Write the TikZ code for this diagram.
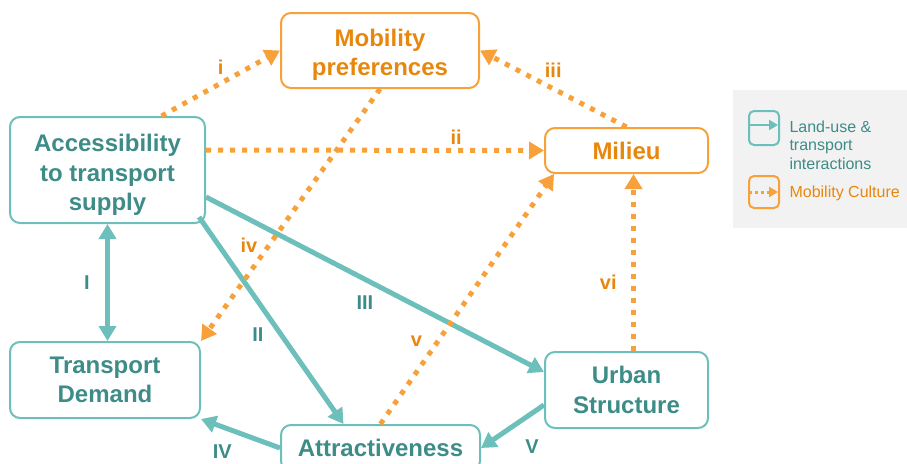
\documentclass[tikz,border=0pt]{standalone}
\usepackage{fontspec}
\setmainfont{Liberation Sans}
\usetikzlibrary{arrows.meta}

\definecolor{tealline}{HTML}{6CBFBB}
\definecolor{tealtext}{HTML}{3D8C88}
\definecolor{orangeline}{HTML}{F8A13A}
\definecolor{orangetext}{HTML}{E8870E}
\definecolor{legendbg}{HTML}{F2F2F2}

\begin{document}
\begin{tikzpicture}[x=1pt,y=-1pt,
    box/.style={draw,line width=2pt,rounded corners=10pt,align=center,
      font=\fontsize{24}{29.5}\selectfont\bfseries,inner sep=0pt},
    luboxA/.style={box,draw=tealline,text=tealtext},
    mcbox/.style={box,draw=orangeline,text=orangetext},
    lu/.style={line width=5pt,tealline,-{Triangle[length=15pt,width=17pt]}},
    mc/.style={line width=5pt,orangeline,dash pattern=on 5pt off 7pt,
      -{Triangle[length=15pt,width=17pt]}},
    lulbl/.style={text=tealtext,font=\fontsize{20}{24}\selectfont\bfseries},
    mclbl/.style={text=orangetext,font=\fontsize{20}{24}\selectfont\bfseries}]
  \useasboundingbox (0,0) rectangle (907,463);

  % boxes (the rule pushes the first line a bit lower)
  \node[luboxA,minimum width=195pt,minimum height=106pt] (acc) at (107.5,170) {\rule{0pt}{27.5pt}Accessibility\\to transport\\supply};
  \node[mcbox,minimum width=198pt,minimum height=75pt] (pref) at (380,50.5) {\rule{0pt}{25.5pt}Mobility\\preferences};
  \node[mcbox,minimum width=163pt,minimum height=45pt] (milieu) at (626.5,150.5) {Milieu};
  \node[luboxA,minimum width=190pt,minimum height=76pt] (demand) at (105,380) {Transport\\Demand};
  \node[luboxA,minimum width=163pt,minimum height=76pt] (urban) at (626.5,390) {Urban\\Structure};
  \node[luboxA,minimum width=199pt,minimum height=46pt] (attr) at (380.5,448) {Attractiveness};

  % land-use & transport interactions
  \draw[lu,{Triangle[length=15pt,width=17pt]}-{Triangle[length=15pt,width=17pt]}] (acc.south) -- node[lulbl,left=12pt] (lI) {I} (acc.south |- demand.north);
  \draw[lu] ([xshift=-7pt,yshift=7pt]acc.south east) -- node[lulbl,pos=.57,left=12pt] (lII) {II} ([xshift=-37pt]attr.north);
  \draw[lu] ([yshift=-27pt]acc.east) -- node[lulbl,pos=.47,below=11pt] (lIII) {III} ([yshift=18pt]urban.west);
  \draw[lu] (attr.west) -- node[lulbl,pos=.73,below=12pt] (lIV) {IV} (demand.south east);
  \draw[lu] ([yshift=-15pt]urban.west) -- node[lulbl,pos=.3,below=16pt,xshift=7pt] (lV) {V} (attr.east);

  % mobility culture
  \draw[mc] (acc.45) -- node[mclbl,above=3pt] (li) {i} (pref.west);
  \draw[mc] ([yshift=20pt]acc.east) -- node[mclbl,pos=.74,above=0pt] (lii) {ii} (milieu.west);
  \draw[mc] (milieu.north) -- node[mclbl,above=5pt] (liii) {iii} (pref.east);
  \draw[mc] (pref.south) -- node[mclbl,pos=.62,left=6pt] (liv) {iv} (demand.north east);
  \draw[mc] (attr.north) -- node[mclbl,pos=.33,left=10pt] (lv) {v} ([xshift=10pt]milieu.south west);
  \draw[mc] ([xshift=7pt]urban.north) -- node[mclbl,pos=.39,left=11pt] (lvi) {vi} ([xshift=7pt]milieu.south);

  % legend
  \fill[legendbg] (733,90) rectangle (907,228);
  \draw[tealline,line width=2pt,rounded corners=5pt] (749,111) rectangle (779,145);
  \draw[tealline,line width=2.5pt,-{Triangle[length=9pt,width=10pt]}] (749,125) -- (778,125);
  \draw[orangeline,line width=2pt,rounded corners=5pt] (749,176) rectangle (779,208);
  \draw[orangeline,line width=3pt,dash pattern=on 3pt off 3pt,-{Triangle[length=9pt,width=10pt]}] (749,192) -- (778,192);
  \node[anchor=west,align=left,text=tealtext,font=\fontsize{16}{18.5}\selectfont] (keylu) at (786,145) {Land-use \&\\transport\\interactions};
  \node[anchor=west,text=orangetext,font=\fontsize{16}{18.5}\selectfont] (keymc) at (786,193) {Mobility Culture};
\end{tikzpicture}
\end{document}
